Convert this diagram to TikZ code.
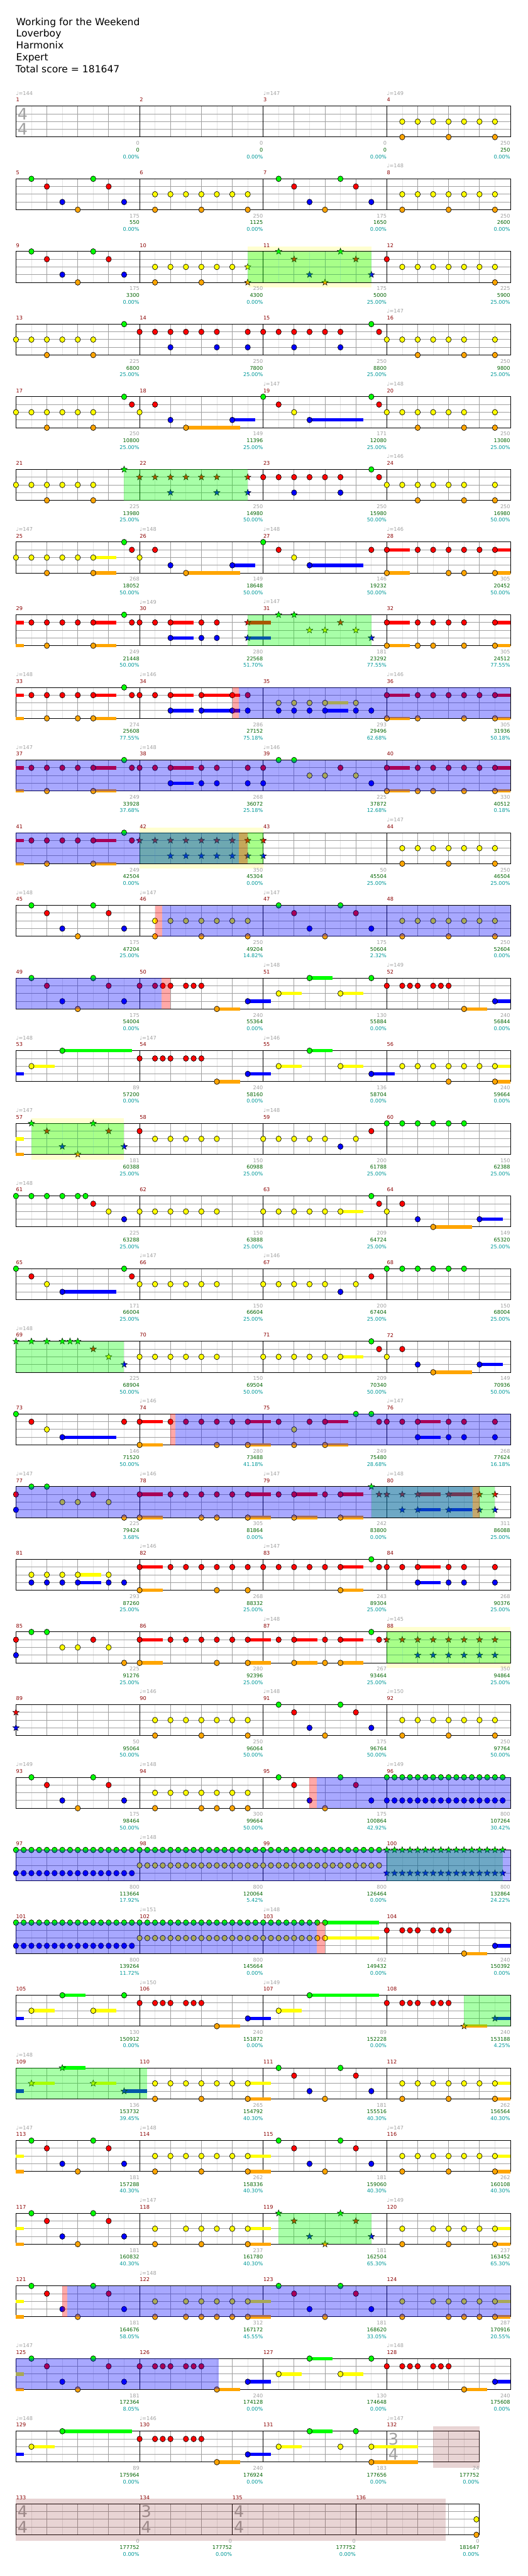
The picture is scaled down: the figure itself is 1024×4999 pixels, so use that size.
\documentclass[tikz,border=0pt]{standalone}
\usepackage{fontspec}
\setmainfont{DejaVu Sans}
\usetikzlibrary{shapes.geometric}
\definecolor{lane0}{RGB}{0,255,0}
\definecolor{lane1}{RGB}{255,0,0}
\definecolor{lane2}{RGB}{255,255,0}
\definecolor{lane3}{RGB}{0,0,255}
\definecolor{lane4}{RGB}{255,165,0}
\definecolor{gtxt}{RGB}{160,160,160}
\definecolor{mtxt}{RGB}{139,0,0}
\definecolor{stxt}{RGB}{0,100,0}
\definecolor{ptxt}{RGB}{0,153,153}
\definecolor{gridc}{RGB}{160,160,160}
\definecolor{lgridc}{RGB}{228,228,228}
\definecolor{pyel}{RGB}{255,255,208}
\definecolor{endc}{RGB}{140,40,40}
\tikzset{
  smalltxt/.style={font=\fontsize{5}{6}\selectfont,inner sep=0pt},
  tsig/.style={font=\fontsize{15.5}{16}\selectfont,inner sep=0pt,text=gtxt},
  notec/.style={draw=black,line width=0.4pt},
  starn/.style={star,star points=5,star point ratio=2.4,minimum size=6.5pt,inner sep=0pt,draw=black,line width=0.3pt},
  titletxt/.style={anchor=base west,inner sep=0pt,font=\fontsize{9.5}{11}\selectfont}
}
\newcommand\rT{206}
\newcommand\gR[1]{\pgfmathsetmacro\rT{206+(#1-1)*141}}
\newcommand\gF[2]{%
  \foreach \gs/\gb in {#1}{%
    \pgfmathtruncatemacro\gnn{2*\gb-1}%
    \foreach \gj in {1,3,...,\gnn}{\draw[lgridc,line width=0.5pt] ({31+30*(\gs+\gj)},\rT) -- ++(0,60);}%
  }%
  \foreach \gk in {1,2,3}{\draw[gridc,line width=0.6pt] (31,{\rT+15*\gk}) -- ({31+30*#2},{\rT+15*\gk});}%
  \foreach \gs/\gb in {#1}{%
    \pgfmathtruncatemacro\gmm{2*\gb-2}%
    \foreach \gj in {2,4,...,\gmm}{\draw[gridc,line width=0.5pt] ({31+30*(\gs+\gj)},\rT) -- ++(0,60);}%
    \draw[black,line width=0.5pt] ({31+30*\gs},\rT) -- ++(0,60);%
  }%
  \draw[black,line width=0.6pt] (31,\rT) rectangle ({31+30*#2},{\rT+60});%
}
\newcommand\gStd{\gF{0/4,8/4,16/4,24/4}{32}}
\newcommand\gN[2]{\foreach \gx in {#2}{\path[notec,fill=lane#1] ({31+30*(\gx)},{\rT+15*#1}) ellipse[x radius=2.55pt,y radius=2.75pt];}}
\newcommand\gS[2]{\foreach \gx in {#2}{\node[starn,fill=lane#1] at ({31+30*(\gx)},{\rT+15*#1}) {};}}
\newcommand\gU[3]{\fill[lane#1] ({31+30*(#2)},{\rT+15*#1-3.3}) rectangle ({31+30*(#3)},{\rT+15*#1+3.3});}
\newcommand\gO[3]{\fill[#1,opacity=0.34] ({31+30*(#2)},\rT) rectangle ({31+30*(#3)},{\rT+60});}
\newcommand\gY[2]{\fill[pyel] ({31+30*(#1)},{\rT-10}) rectangle ({31+30*(#2)},{\rT+70});}
\newcommand\gE[2]{\fill[endc,opacity=0.2] ({31+30*(#1)},{\rT-10}) rectangle ({31+30*(#2)},{\rT+71});}
\newcommand\gTS[3]{\node[tsig] at ({44+30*(#1)},{\rT+15}) {#2};\node[tsig] at ({44+30*(#1)},{\rT+45}) {#3};}
\newcommand\gM[2]{\node[smalltxt,text=mtxt,anchor=west] at ({31+30*(#1)},{\rT-12}) {#2};}
\newcommand\gMs[1]{\foreach \gk in {0,1,2,3}{\pgfmathtruncatemacro\gmn{#1+\gk}\gM{8*\gk}{\gmn}}}
\newcommand\gT[2]{\node[smalltxt,text=gtxt,anchor=west] at ({31+30*(#1)},{\rT-25}) {♩=#2};}
\newcommand\gTs[1]{\foreach \gxa/\gxb in {#1}{\gT{\gxa}{\gxb}}}
\newcommand\gL[4]{%
  \node[smalltxt,text=gtxt,anchor=east] at ({31+30*(#1)},{\rT+72}) {#2};%
  \node[smalltxt,text=stxt,anchor=east] at ({31+30*(#1)},{\rT+85}) {#3};%
  \node[smalltxt,text=ptxt,anchor=east] at ({31+30*(#1)},{\rT+98}) {#4\%};}
\newcommand\gLs[1]{\foreach \gxa/\gxb/\gxc/\gxd in {#1}{\gL{\gxa}{\gxb}{\gxc}{\gxd}}}
\begin{document}
\begin{tikzpicture}[x=0.5pt,y=-0.5pt]
\fill[white] (0,0) rectangle (1024,4999);
\useasboundingbox (0,0) rectangle (1024,4999);
\node[titletxt] (t1) at (31,49) {Working for the Weekend};
\node[titletxt] (t2) at (31,72) {Loverboy};
\node[titletxt] (t3) at (31,95) {Harmonix};
\node[titletxt] (t4) at (31,118) {Expert};
\node[titletxt] (t5) at (30,141) {Total score = 181647};
% ---- row 1
\gR{1}\gStd\gTS{0}{4}{4}
\gN{2}{25,26,27,28,29,30,31}\gN{4}{25,28,31}
\gMs{1}\gTs{0/144,16/147,24/149}
\gLs{8/0/0/0.00,16/0/0/0.00,24/0/0/0.00,32/250/250/0.00}
% ---- row 2
\gR{2}\gStd
\gN{0}{1,5,17,21}\gN{1}{2,6,18,22}\gN{3}{3,7,19,23}\gN{4}{4,9,12,15,20,25,28,31}
\gN{2}{9,10,11,12,13,14,15,25,26,27,28,29,30,31}
\gMs{5}\gTs{24/148}
\gLs{8/175/550/0.00,16/250/1125/0.00,24/175/1650/0.00,32/250/2600/0.00}
% ---- row 3
\gR{3}\gY{15}{23}\gStd
\gN{0}{1,5}\gN{1}{2,6,24}\gN{3}{3,7}\gN{4}{4,9,12,31}\gN{2}{9,10,11,12,13,14,25,26,27,28,29,30,31}
\gS{2}{15}\gS{4}{15,20}\gS{0}{17,21}\gS{1}{18,22}\gS{3}{19,23}
\gO{green}{15}{23}
\gMs{9}
\gLs{8/175/3300/0.00,16/250/4300/0.00,24/175/5000/25.00,32/225/5900/25.00}
% ---- row 4
\gR{4}\gStd
\gN{2}{0,1,2,3,4,5,24,25,26,27,28,29,31}\gN{4}{2,5,26,29,31}\gN{0}{7,23}
\gN{1}{8,9,10,11,12,13,15,16,17,18,19,20,21,23.5}\gN{3}{10,13,15,18,21}
\gMs{13}\gTs{24/147}
\gLs{8/225/6800/25.00,16/250/7800/25.00,24/250/8800/25.00,32/250/9800/25.00}
% ---- row 5
\gR{5}\gStd
\gU{4}{11}{14.5}\gU{3}{14}{15.5}\gU{3}{19}{22.5}
\gN{2}{0,1,2,3,4,5,8,18,24,25,26,27,28,29,31}\gN{4}{2,5,11,26,29,31}\gN{0}{7,16,23}
\gN{1}{7.5,9,17,23.5}\gN{3}{10,14,19}
\gMs{17}\gTs{16/147,24/148}
\gLs{8/250/10800/25.00,16/149/11396/25.00,24/171/12080/25.00,32/250/13080/25.00}
% ---- row 6
\gR{6}\gStd
\gN{2}{0,1,2,3,4,5,24,25,26,27,28,29,31}\gN{4}{2,5,26,29,31}
\gS{0}{7}\gS{1}{8,9,10,11,12,13,15}\gS{3}{10,13,15}
\gN{1}{16,17,18,19,20,21,23.5}\gN{3}{18,21}\gN{0}{23}
\gO{green}{7}{15}
\gMs{21}\gTs{24/146}
\gLs{8/225/13980/25.00,16/250/14980/50.00,24/250/15980/50.00,32/250/16980/50.00}
% ---- row 7
\gR{7}\gStd
\gU{2}{5}{6.5}\gU{4}{5}{6.5}\gU{4}{11}{14.5}\gU{3}{14}{15.5}\gU{3}{19}{22.5}\gU{1}{24}{25.5}\gU{4}{24}{25.5}\gU{1}{31}{32}\gU{4}{31}{32}
\gN{2}{0,1,2,3,4,5,8,18}\gN{4}{2,5,11,24,28,29,31}\gN{0}{7,16}
\gN{1}{7.5,9,17,23,24,26,27,28,29,30,31}\gN{3}{10,14,19}
\gMs{25}\gTs{0/147,8/148,16/148,24/146}
\gLs{8/268/18052/50.00,16/149/18648/50.00,24/146/19232/50.00,32/305/20452/50.00}
% ---- row 8
\gR{8}\gStd
\gU{1}{0}{0.5}\gU{4}{0}{0.5}\gU{1}{5}{6.5}\gU{4}{5}{6.5}\gU{1}{10}{11.5}\gU{3}{10}{11.5}\gU{1}{15}{16.5}\gU{3}{15}{16.5}\gU{1}{24}{25.5}\gU{4}{24}{25.5}\gU{1}{31}{32}\gU{4}{31}{32}
\gN{1}{1,2,3,4,5,7.5,8,9,10,12,13,24,26,27,28,29,31}\gN{4}{2,5,24,26,27,29,31}\gN{0}{7}\gN{3}{10,12,13}
\gS{1}{15,21}\gS{3}{15,23}\gS{0}{17,18}\gS{2}{19,20,22}
\gO{green}{15}{23}
\gMs{29}\gTs{8/149,16/147}
\gLs{8/249/21448/50.00,16/280/22568/51.70,24/181/23292/77.55,32/305/24512/77.55}
% ---- row 9
\gR{9}\gStd
\gU{1}{0}{0.5}\gU{4}{0}{0.5}\gU{1}{5}{6.5}\gU{4}{5}{6.5}\gU{1}{10}{11.5}\gU{3}{10}{11.5}\gU{1}{12}{14.5}\gU{3}{12}{14.5}\gU{2}{20}{21.5}\gU{3}{20}{21.5}\gU{1}{24}{25.5}\gU{4}{24}{25.5}\gU{1}{31}{32}\gU{4}{31}{32}
\gN{1}{1,2,3,4,5,7.5,8,9,10,12,14,15,24,26,27,28,29,30,31}\gN{4}{2,4,5,24,26,29,31}\gN{0}{7}
\gN{3}{10,12,14,15,17,18,19,20,22,23}\gN{2}{17,18,19,20,22}
\gO{red}{14}{14.43}\gO{blue}{14.43}{32}
\gMs{33}\gTs{0/148,8/146,24/146}
\gLs{8/274/25608/77.55,16/286/27152/75.18,24/293/29496/62.68,32/305/31936/50.18}
% ---- row 10
\gR{10}\gStd
\gU{1}{0}{0.5}\gU{4}{0}{0.5}\gU{1}{5}{6.5}\gU{4}{5}{6.5}\gU{1}{10}{11.5}\gU{3}{10}{11.5}\gU{1}{24}{25.5}\gU{4}{24}{25.5}\gU{1}{31}{32}\gU{4}{31}{32}
\gN{1}{1,2,3,4,5,7.5,8,9,10,12,13,15,16,21,24,26,27,28,29,30,31}\gN{4}{2,5,24,26,27,29,31}
\gN{0}{7,17,18}\gN{3}{10,12,13,15,16,23}\gN{2}{19,20,22}
\gO{blue}{0}{32}
\gMs{37}\gTs{0/147,8/148,16/146}
\gLs{8/249/33928/37.68,16/268/36072/25.18,24/225/37872/12.68,32/330/40512/0.18}
% ---- row 11
\gR{11}\gY{8}{16}\gStd
\gU{1}{0}{0.5}\gU{4}{0}{0.5}\gU{1}{5}{6.5}\gU{4}{5}{6.5}
\gN{1}{1,2,3,4,5,7.5}\gN{4}{2,5,25,28,31}\gN{0}{7}
\gS{1}{8,9,10,11,12,13,14,15,16}\gS{3}{10,11,12,13,14,15,16}
\gN{2}{25,26,27,28,29,30,31}
\gO{green}{8}{16}\gO{blue}{0}{14.43}\gO{red}{14.43}{15}
\gMs{41}\gTs{24/147}
\gLs{8/249/42504/0.00,16/350/45304/0.00,24/50/45504/25.00,32/250/46504/25.00}
% ---- row 12
\gR{12}\gStd
\gN{0}{1,5,17,21}\gN{1}{2,6,18,22}\gN{3}{3,7,19,23}\gN{4}{4,9,12,15,20,25,28,31}
\gN{2}{9,10,11,12,13,14,15,25,26,27,28,29,30,31}
\gO{red}{9}{9.45}\gO{blue}{9.45}{32}
\gMs{45}\gTs{0/148,8/147,16/147}
\gLs{8/175/47204/25.00,16/250/49204/14.82,24/175/50604/2.32,32/250/52604/0.00}
% ---- row 13
\gR{13}\gStd
\gU{4}{13}{14.5}\gU{3}{15}{16.5}\gU{2}{17}{18.5}\gU{0}{19}{20.5}\gU{2}{21}{22.5}\gU{4}{29}{30.5}\gU{3}{31}{32}
\gN{0}{1,5,19,23}\gN{1}{2,6,8,9,9.5,10,11,11.5,12,24,25,25.5,26,27,27.5,28}\gN{3}{3,7,15,31}\gN{4}{4,13,29}\gN{2}{17,21}
\gO{blue}{0}{9.43}\gO{red}{9.43}{10}
\gMs{49}\gTs{16/148,24/149}
\gLs{8/175/54004/0.00,16/240/55364/0.00,24/130/55884/0.00,32/240/56844/0.00}
% ---- row 14
\gR{14}\gStd
\gU{3}{0}{0.5}\gU{2}{1}{2.5}\gU{0}{3}{7.5}\gU{4}{13}{14.5}\gU{3}{15}{16.5}\gU{2}{17}{18.5}\gU{0}{19}{20.5}\gU{2}{21}{22.5}\gU{3}{23}{24.5}\gU{2}{31}{32}\gU{4}{31}{32}
\gN{2}{1,17,21,25,26,27,28,29,30,31}\gN{0}{3,19}\gN{1}{8,9,9.5,10,11,11.5,12}\gN{4}{13,28,31}\gN{3}{15,23}
\gMs{53}\gTs{0/148,8/147,16/146}
\gLs{8/89/57200/0.00,16/240/58160/0.00,24/136/58704/0.00,32/240/59664/0.00}
% ---- row 15
\gR{15}\gY{1}{7}\gStd
\gU{2}{0}{0.5}\gU{4}{0}{0.5}
\gS{0}{1,5}\gS{1}{2,6}\gS{3}{3,7}\gS{4}{4}
\gN{1}{8,23}\gN{2}{9,10,11,12,13,16,17,18,19,20,22}\gN{3}{21}\gN{0}{24,25,26,27,28,29}
\gO{green}{1}{7}
\gMs{57}\gTs{0/147,16/148}
\gLs{8/181/60388/25.00,16/150/60988/25.00,24/200/61788/25.00,32/150/62388/25.00}
% ---- row 16
\gR{16}\gStd
\gU{2}{21}{22.5}\gU{4}{27}{29.5}\gU{3}{30}{31.5}
\gN{0}{0,1,2,3,4,4.5,23}\gN{1}{5,23.5,25}\gN{2}{6,8,9,10,11,12,13,16,17,18,19,20,21,24}\gN{3}{7,26,30}\gN{4}{27}
\gMs{61}\gTs{0/148}
\gLs{8/225/63288/25.00,16/150/63888/25.00,24/209/64724/25.00,32/149/65320/25.00}
% ---- row 17
\gR{17}\gStd
\gU{3}{3}{6.5}
\gN{0}{0,7,24,25,26,27,28,29}\gN{1}{1,7.5,23}\gN{2}{2,8,9,10,11,12,13,16,17,18,19,20,22}\gN{3}{3,21}
\gMs{65}\gTs{8/147,16/146}
\gLs{8/171/66004/25.00,16/150/66604/25.00,24/200/67404/25.00,32/150/68004/25.00}
% ---- row 18
\gR{18}\gStd
\gU{2}{21}{22.5}\gU{4}{27}{29.5}\gU{3}{30}{31.5}
\gS{0}{0,1,2,3,3.5,4}\gS{1}{5}\gS{2}{6}\gS{3}{7}
\gN{2}{8,9,10,11,12,13,16,17,18,19,20,21,24}\gN{0}{23}\gN{1}{23.5,25}\gN{3}{26,30}\gN{4}{27}
\gO{green}{0}{7}
\gMs{69}\gTs{0/148}
\gLs{8/225/68904/50.00,16/150/69504/50.00,24/209/70340/50.00,32/149/70936/50.00}
% ---- row 19
\gR{19}\gStd
\gU{3}{3}{6.5}\gU{1}{8}{9.5}\gU{4}{8}{9.5}\gU{1}{15}{16.5}\gU{4}{15}{16.5}\gU{1}{20}{21.5}\gU{4}{20}{21.5}\gU{1}{26}{27.5}\gU{3}{26}{27.5}
\gN{0}{0,22,23}\gN{1}{1,7,8,10,11,12,13,14,15,17,19,20,23.5,24,25,26,28,29,31}\gN{2}{2,18}\gN{3}{3,26,28,29,31}\gN{4}{8,13,15,18,20}
\gO{red}{10}{10.3}\gO{blue}{10.3}{32}
\gMs{73}\gTs{8/146,24/147}
\gLs{8/146/71520/50.00,16/280/73488/41.18,24/249/75480/28.68,32/268/77624/16.18}
% ---- row 20
\gR{20}\gStd
\gU{1}{8}{9.5}\gU{4}{8}{9.5}\gU{1}{15}{16.5}\gU{4}{15}{16.5}\gU{1}{18}{19.5}\gU{4}{18}{19.5}\gU{1}{21}{22.5}\gU{4}{21}{22.5}\gU{1}{26}{27.5}\gU{3}{26}{27.5}\gU{1}{28}{29.5}\gU{3}{28}{29.5}
\gN{1}{0,5,8,10,11,12,13,14,15,17,18,20,21}\gN{3}{0}\gN{0}{1,2}\gN{2}{3,4,6}\gN{4}{7,8,12,13,15,18,21}
\gS{0}{23}\gS{1}{23.5,24,25,26,28,30,31}\gS{3}{25,26,28,30,31}
\gO{green}{23}{31}\gO{blue}{0}{29.56}\gO{red}{29.56}{30}
\gMs{77}\gTs{0/147,8/146,16/147,24/148}
\gLs{8/225/79424/3.68,16/305/81864/0.00,24/242/83800/0.00,32/311/86088/25.00}
% ---- row 21
\gR{21}\gStd
\gU{2}{4}{5.5}\gU{3}{4}{5.5}\gU{1}{8}{9.5}\gU{4}{8}{9.5}\gU{1}{21}{22.5}\gU{4}{21}{22.5}\gU{1}{26}{27.5}\gU{3}{26}{27.5}
\gN{2}{1,2,3,4,6}\gN{3}{1,2,3,4,6,7,26,28,29,31}\gN{1}{8,10,11,12,13,14,15,16,17,18,19,20,21,23.5,24,25,26,28,29,31}\gN{4}{8,13,15,21}\gN{0}{23}
\gMs{81}\gTs{8/146,16/147}
\gLs{8/293/87260/25.00,16/268/88332/25.00,24/243/89304/25.00,32/268/90376/25.00}
% ---- row 22
\gR{22}\gY{24}{32}\gStd
\gU{1}{8}{9.5}\gU{4}{8}{9.5}\gU{1}{15}{16.5}\gU{4}{15}{16.5}\gU{1}{18}{19.5}\gU{4}{18}{19.5}\gU{1}{21}{22.5}\gU{4}{21}{22.5}
\gN{1}{0,5,8,10,11,12,13,14,15,17,18,20,21,23.5}\gN{3}{0}\gN{0}{1,2,23}\gN{2}{3,4,6}\gN{4}{7,8,13,15,18,20,21}
\gS{1}{24,25,26,27,28,29,30,31}\gS{3}{26,27,28,29,30,31}
\gO{green}{24}{32}
\gMs{85}\gTs{16/148,24/145}
\gLs{8/225/91276/25.00,16/280/92396/25.00,24/267/93464/25.00,32/350/94864/25.00}
% ---- row 23
\gR{23}\gStd
\gS{1}{0}\gS{3}{0}
\gN{2}{9,10,11,12,13,14,15,25,26,27,28,29,30,31}\gN{4}{9,12,15,20,25,28,31}\gN{0}{17,21}\gN{1}{18,22}\gN{3}{19,23}
\gMs{89}\gTs{8/146,16/148,24/150}
\gLs{8/50/95064/50.00,16/250/96064/50.00,24/175/96764/50.00,32/250/97764/50.00}
% ---- row 24
\gR{24}\gStd
\gN{0}{1,5,17,21}\gN{1}{2,6,18,22}\gN{3}{3,7,19,23}\gN{4}{4,9,12,13,14,15,20}\gN{2}{9,10,11,12,13,14,15}
\gN{0}{24,24.5,...,31.5}\gN{3}{24,24.5,...,31.5}
\gO{red}{19}{19.46}\gO{blue}{19.46}{32}
\gMs{93}\gTs{0/149,8/148,24/149}
\gLs{8/175/98464/50.00,16/300/99664/50.00,24/175/100864/42.92,32/800/107264/30.42}
% ---- row 25
\gR{25}\gStd
\gN{0}{0,0.5,...,23.5}\gS{0}{24,24.5,...,31.5}\gN{3}{0,0.5,...,7.5}\gN{2}{8,8.5,...,23.5}\gS{3}{24,24.5,...,31.5}
\gO{green}{24}{31.5}\gO{blue}{0}{32}
\gMs{97}\gTs{8/148}
\gLs{8/800/113664/17.92,16/800/120064/5.42,24/800/126464/0.00,32/800/132864/24.22}
% ---- row 26
\gR{26}\gStd
\gU{0}{20}{23.5}\gU{2}{20}{23.5}\gU{4}{29}{30.5}\gU{3}{31}{32}
\gN{0}{0,0.5,...,20}\gN{3}{0,0.5,...,7.5}\gN{3}{31}\gN{2}{8,8.5,...,20}\gN{1}{24,25,25.5,26,27,27.5,28}\gN{4}{29}
\gO{blue}{0}{19.46}\gO{red}{19.46}{20}
\gMs{101}\gTs{8/151,16/148}
\gLs{8/800/139264/11.72,16/800/145664/0.00,24/492/149432/0.00,32/240/150392/0.00}
% ---- row 27
\gR{27}\gStd
\gU{3}{0}{0.5}\gU{2}{1}{2.5}\gU{0}{3}{4.5}\gU{2}{5}{6.5}\gU{4}{13}{14.5}\gU{3}{15}{16.5}\gU{2}{17}{18.5}\gU{0}{19}{23.5}\gU{4}{29}{30.5}\gU{3}{31}{32}
\gN{2}{1,5,17}\gN{0}{3,7,19}\gN{1}{8,9,9.5,10,11,11.5,12,24,25,25.5,26,27,27.5,28}\gN{4}{13}\gN{3}{15}
\gS{4}{29}\gS{3}{31}
\gO{green}{29}{32}
\gMs{105}\gTs{8/150,16/149}
\gLs{8/130/150912/0.00,16/240/151872/0.00,24/89/152228/0.00,32/240/153188/4.25}
% ---- row 28
\gR{28}\gStd
\gU{3}{0}{0.5}\gU{2}{1}{2.5}\gU{0}{3}{4.5}\gU{2}{5}{6.5}\gU{3}{7}{8.5}\gU{2}{15}{16.5}\gU{4}{15}{16.5}\gU{2}{31}{32}\gU{4}{31}{32}
\gS{2}{1,5}\gS{0}{3}\gS{3}{7}
\gN{2}{9,10,11,12,13,14,15,25,26,27,28,29,30,31}\gN{4}{9,12,15,20,25,28,31}\gN{0}{17,21}\gN{1}{18,22}\gN{3}{19,23}
\gO{green}{0}{8.5}
\gMs{109}\gTs{0/148}
\gLs{8/136/153732/39.45,16/265/154792/40.30,24/181/155516/40.30,32/262/156564/40.30}
% ---- row 29
\gR{29}\gStd
\gU{2}{0}{0.5}\gU{4}{0}{0.5}\gU{2}{15}{16.5}\gU{4}{15}{16.5}\gU{2}{31}{32}\gU{4}{31}{32}
\gN{0}{1,5,17,21}\gN{1}{2,6,18,22}\gN{3}{3,7,19,23}\gN{4}{4,9,12,15,20,25,28,31}\gN{2}{9,10,11,12,13,14,15,25,26,27,28,29,30,31}
\gMs{113}\gTs{0/147,8/148,24/147}
\gLs{8/181/157288/40.30,16/262/158336/40.30,24/181/159060/40.30,32/262/160108/40.30}
% ---- row 30
\gR{30}\gStd
\gU{2}{0}{0.5}\gU{4}{0}{0.5}\gU{2}{15}{16.5}\gU{4}{15}{16.5}\gU{2}{31}{32}\gU{4}{31}{32}
\gN{0}{1,5}\gN{1}{2,6}\gN{3}{3,7}\gN{4}{4,9,12,15,25,28,31}\gN{2}{9,11,12,13,14,15,25,27,28,29,30,31}
\gS{0}{17,21}\gS{1}{18,22}\gS{3}{19,23}\gS{4}{20}
\gO{green}{17}{23}
\gMs{117}\gTs{8/147,24/149}
\gLs{8/181/160832/40.30,16/237/161780/40.30,24/181/162504/65.30,32/237/163452/65.30}
% ---- row 31
\gR{31}\gStd
\gU{2}{0}{0.5}\gU{4}{0}{0.5}\gU{2}{15}{16.5}\gU{4}{15}{16.5}\gU{2}{31}{32}\gU{4}{31}{32}
\gN{0}{1,5,17,21}\gN{1}{2,6,18,22}\gN{3}{3,7,19,23}\gN{4}{4,9,11,12,13,14,15,20,25,28,29,30,31}\gN{2}{9,11,12,13,14,15,25,27,28,29,30,31}
\gO{red}{3}{3.33}\gO{blue}{3.33}{32}
\gMs{121}\gTs{8/148}
\gLs{8/181/164676/58.05,16/312/167172/45.55,24/181/168620/33.05,32/287/170916/20.55}
% ---- row 32
\gR{32}\gStd
\gU{2}{0}{0.5}\gU{4}{0}{0.5}\gU{4}{13}{14.5}\gU{3}{15}{16.5}\gU{2}{17}{18.5}\gU{0}{19}{20.5}\gU{2}{21}{22.5}\gU{4}{29}{30.5}\gU{3}{31}{32}
\gN{0}{1,5,19,23}\gN{1}{2,6,8,9,9.5,10,11,11.5,12,24,25,25.5,26,27,27.5,28}\gN{3}{3,7,15,31}\gN{4}{4,13,29}\gN{2}{17,21}
\gO{blue}{0}{13.13}
\gMs{125}\gTs{0/147,24/148}
\gLs{8/181/172364/8.05,16/240/174128/0.00,24/130/174648/0.00,32/240/175608/0.00}
% ---- row 33
\gR{33}\gF{0/4,8/4,16/4,24/3}{30}\gTS{24}{3}{4}
\gU{3}{0}{0.5}\gU{2}{1}{2.5}\gU{0}{3}{7.5}\gU{4}{13}{14.5}\gU{3}{15}{16.5}\gU{2}{17}{18.5}\gU{0}{19}{20.5}\gU{2}{23}{26}\gU{4}{23}{26}
\gN{2}{1,17,21,23}\gN{0}{3,19,22}\gN{1}{8,9,9.5,10,11,11.5,12}\gN{4}{13,23}\gN{3}{15}
\gE{27}{30}
\gMs{129}\gTs{0/148,8/146,24/147}
\gLs{8/89/175964/0.00,16/240/176924/0.00,24/183/177656/0.00,30/24/177752/0.00}
% ---- row 34
\gR{34}\gF{0/4,8/3,14/4,22/4}{30}\gTS{0}{4}{4}\gTS{8}{3}{4}\gTS{14}{4}{4}
\gN{2}{29.8}\gN{4}{29.8}
\gE{0}{27.8}
\gM{0}{133}\gM{8}{134}\gM{14}{135}\gM{22}{136}
\gLs{8/0/177752/0.00,14/0/177752/0.00,22/0/177752/0.00,30/0/181647/0.00}
\end{tikzpicture}
\end{document}
